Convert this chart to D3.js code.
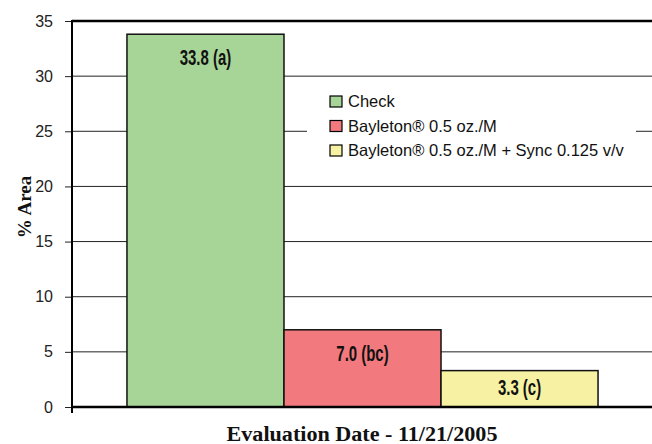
<!DOCTYPE html>
<meta charset="utf-8">
<title>% Area</title>
<style>
body { margin: 0; background: #fff; }
.tick text { font: 16px "Liberation Sans", Arial, sans-serif; fill: #222; }
.lab { font: bold 22px "Liberation Sans", Arial, sans-serif; fill: #111; }
.leg { font: 16.5px "Liberation Sans", Arial, sans-serif; fill: #111; }
.title { font: bold 17px "Liberation Serif", "DejaVu Serif", serif; fill: #111; }
</style>
<svg width="652" height="444"></svg>
<script src="https://d3js.org/d3.v7.min.js"></script>
<script>

var series = ["Check", "Bayleton\u00ae 0.5 oz./M", "Bayleton\u00ae 0.5 oz./M + Sync 0.125 v/v"],
    values = [33.8, 7.0, 3.3],
    letters = ["a", "bc", "c"],
    colors = ["#a7d497", "#f27a7f", "#f7f2a3"],
    yTicks = [0, 5, 10, 15, 20, 25, 30, 35];

var svg = d3.select("svg"),
    mLeft = 72, mRight = 653, mTop = 21, mBottom = 407;

var x = d3.scaleBand()
    .domain(series)
    .range([mLeft, mRight])
    .paddingInner(0)
    .paddingOuter(0.35);

var y = d3.scaleLinear()
    .domain([0, 35])
    .range([mBottom, mTop]);

// grid lines
svg.append("g").selectAll("line")
  .data(yTicks.filter(function(d) { return d > 0 && d < 35; }))
  .enter().append("line")
    .attr("x1", mLeft).attr("x2", mRight)
    .attr("y1", function(d) { return y(d); })
    .attr("y2", function(d) { return y(d); })
    .attr("stroke", "#222").attr("stroke-width", 1);

// top frame
svg.append("line")
    .attr("x1", mLeft).attr("x2", mRight)
    .attr("y1", y(35)).attr("y2", y(35))
    .attr("stroke", "#000").attr("stroke-width", 2.5);

// legend box (white, covers the grid)
var leg = svg.append("g").attr("transform", "translate(307,86)");
leg.append("rect").attr("width", 329).attr("height", 76).attr("fill", "#fff");
var li = leg.selectAll("g").data(series).enter().append("g")
    .attr("transform", function(d, i) { return "translate(23," + (10 + i * 24.5) + ")"; });
li.append("rect")
    .attr("width", 12).attr("height", 11)
    .attr("fill", function(d, i) { return colors[i]; })
    .attr("stroke", "#000").attr("stroke-width", 1.2);
li.append("text").attr("class", "leg")
    .attr("x", 18).attr("y", 11)
    .text(function(d) { return d; });

// bars
svg.append("g").selectAll("rect")
  .data(series)
  .enter().append("rect")
    .attr("x", function(d) { return x(d); })
    .attr("width", x.bandwidth())
    .attr("y", function(d, i) { return y(values[i]); })
    .attr("height", function(d, i) { return y(0) - y(values[i]); })
    .attr("fill", function(d, i) { return colors[i]; })
    .attr("stroke", "#111").attr("stroke-width", 1.5);

// condensed bold value labels
svg.append("g").selectAll("text")
  .data(series)
  .enter().append("text")
    .attr("class", "lab")
    .attr("text-anchor", "middle")
    .attr("transform", function(d, i) {
      var h = y(0) - y(values[i]),
          by = y(values[i]) + Math.min(31, h / 2 + 6);
      return "translate(" + (x(d) + x.bandwidth() / 2) + "," + by + ") scale(0.68,1)";
    })
    .text(function(d, i) { return values[i].toFixed(1) + " (" + letters[i] + ")"; });

// y axis
var yAxis = svg.append("g")
    .attr("transform", "translate(" + mLeft + ",0)")
    .call(d3.axisLeft(y).tickValues(yTicks).tickSize(7).tickPadding(12));
yAxis.select(".domain").remove();
yAxis.selectAll(".tick line").attr("stroke", "#222");
svg.append("line")
    .attr("x1", mLeft).attr("x2", mLeft)
    .attr("y1", mTop - 1).attr("y2", mBottom + 6)
    .attr("stroke", "#000").attr("stroke-width", 2);
svg.append("line")
    .attr("x1", mLeft).attr("x2", mRight)
    .attr("y1", mBottom).attr("y2", mBottom)
    .attr("stroke", "#000").attr("stroke-width", 2.5);

// titles
svg.append("text").attr("class", "title")
    .attr("transform", "translate(31,207) rotate(-90)")
    .attr("text-anchor", "middle")
    .style("font-size", "19px")
    .text("% Area");
svg.append("text").attr("class", "title")
    .attr("x", 362).attr("y", 441)
    .attr("text-anchor", "middle")
    .attr("textLength", 271)
    .attr("lengthAdjust", "spacingAndGlyphs")
    .style("font-size", "20px")
    .text("Evaluation Date - 11/21/2005");

</script>
